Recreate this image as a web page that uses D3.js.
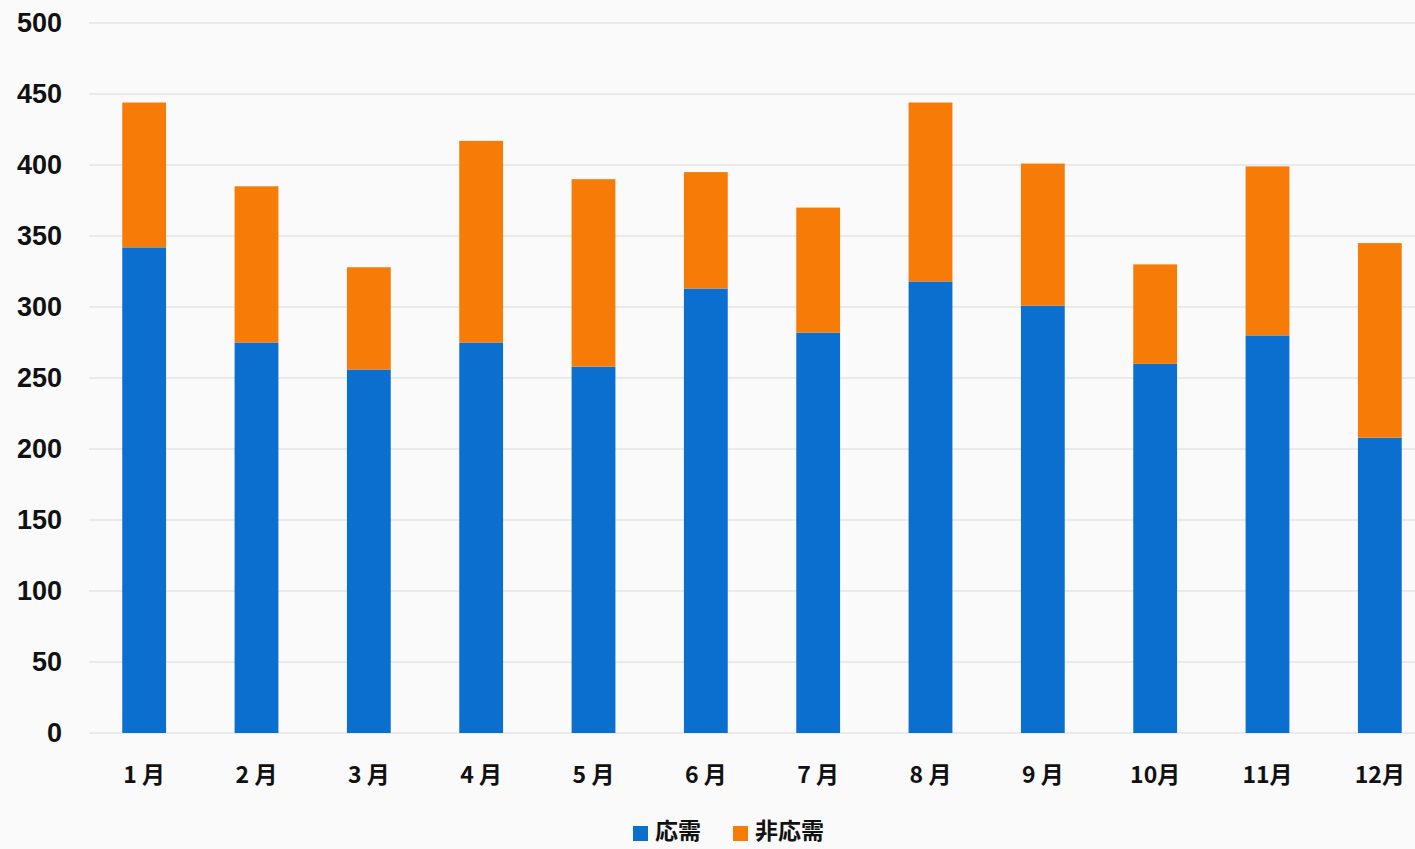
<!DOCTYPE html>
<html>
<head>
<meta charset="utf-8">
<script src="https://cdn.jsdelivr.net/npm/d3@7"></script>
<style>
  body { margin: 0; background: #fafafa; }
  svg { display: block; }
</style>
</head>
<body>
<svg></svg>
<script>
// chart data
const months = ['1 月', '2 月', '3 月', '4 月', '5 月', '6 月', '7 月', '8 月', '9 月', '10月', '11月', '12月']
const ouju = [342, 275, 256, 275, 258, 313, 282, 318, 301, 260, 280, 208]        // 応需
const hiOuju = [102, 110, 72, 142, 132, 82, 88, 126, 100, 70, 119, 137]          // 非応需
const yTicks = [0, 50, 100, 150, 200, 250, 300, 350, 400, 450, 500]
const seriesNames = ['応需', '非応需']
const colors = ['#0b6fcf', '#f67b07']

const width = 1415
const height = 849

const svg = d3.select('svg')
  .attr('width', width)
  .attr('height', height)
  .style('background', '#fafafa')

// scales
const x = d3.scaleBand()
  .domain(months)
  .range([88, 1436])
  .paddingInner(0.61)
  .paddingOuter(0.305)

const y = d3.scaleLinear()
  .domain([0, 500])
  .range([733, 23])

// gridlines
svg.append('g')
  .selectAll('line')
  .data(yTicks)
  .enter()
  .append('line')
  .attr('x1', 89)
  .attr('x2', width)
  .attr('y1', d => y(d))
  .attr('y2', d => y(d))
  .style('stroke', '#e4e4e4')
  .style('stroke-width', 1.5)

// y axis labels
const yAxis = svg.append('g')
  .attr('transform', 'translate(62,0)')
  .call(d3.axisLeft(y).tickValues(yTicks).tickSize(0).tickPadding(0))
yAxis.select('.domain').remove()
yAxis.selectAll('text')
  .style('font-family', '"Liberation Sans", Arial, sans-serif')
  .style('font-weight', 'bold')
  .style('font-size', '27px')
  .style('fill', '#111')

// stacked data
const rows = months.map((m, i) => ({ month: m, '応需': ouju[i], '非応需': hiOuju[i] }))
const stacked = d3.stack().keys(seriesNames)(rows)

svg.append('g')
  .selectAll('g')
  .data(stacked)
  .enter()
  .append('g')
  .style('fill', (d, i) => colors[i])
  .selectAll('rect')
  .data(d => d)
  .enter()
  .append('rect')
  .attr('x', d => x(d.data.month))
  .attr('width', x.bandwidth())
  .attr('y', d => y(d[1]))
  .attr('height', d => y(d[0]) - y(d[1]))

// x axis labels
const xAxis = svg.append('g')
  .attr('transform', 'translate(0,775)')
  .call(d3.axisBottom(x).tickSize(0).tickPadding(0))
xAxis.select('.domain').remove()
xAxis.selectAll('text')
  .attr('dy', '0.35em')
  .style('font-family', '"Noto Sans CJK JP", sans-serif')
  .style('font-weight', 'bold')
  .style('font-size', '23px')
  .style('fill', '#111')

// legend
const legend = svg.append('g')
  .attr('transform', 'translate(633,831)')

const legendX = [0, 100]
seriesNames.forEach((name, i) => {
  const item = legend.append('g').attr('transform', `translate(${legendX[i]},0)`)
  item.append('rect')
    .attr('x', 0)
    .attr('y', -5)
    .attr('width', 15)
    .attr('height', 15)
    .style('fill', colors[i])
  item.append('text')
    .attr('x', 22)
    .attr('y', 0)
    .attr('dy', '0.36em')
    .text(name)
    .style('font-family', '"Noto Sans CJK JP", sans-serif')
    .style('font-weight', 'bold')
    .style('font-size', '23px')
    .style('fill', '#111')
})
</script>
</body>
</html>
